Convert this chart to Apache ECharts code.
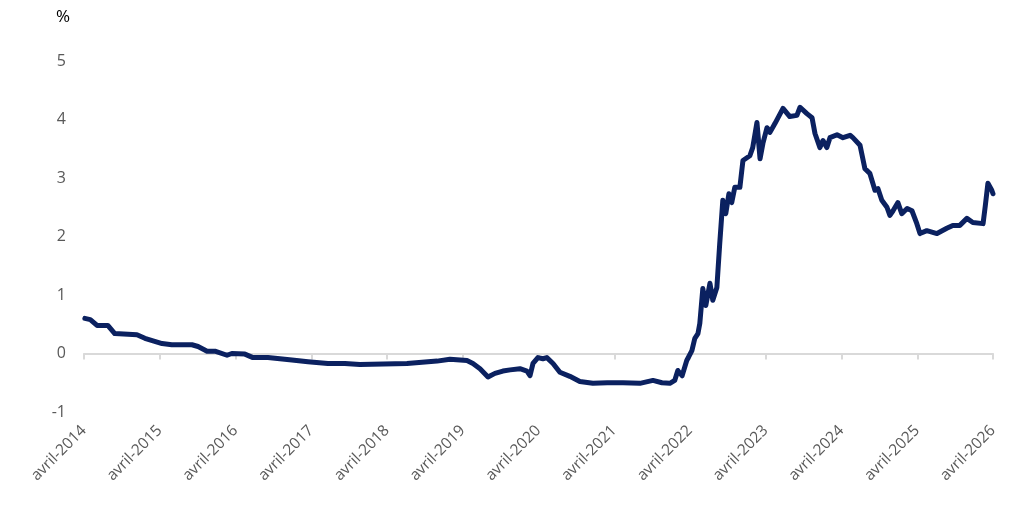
<!DOCTYPE html>
<html>
<head>
<meta charset="utf-8">
<script src="https://cdn.jsdelivr.net/npm/echarts@6/dist/echarts.min.js"></script>
<style>
  html, body { margin: 0; padding: 0; background: #fff; }
  #chart { width: 1024px; height: 517px; }
</style>
</head>
<body>
<div id="chart"></div>
<script>
// dates of the readings
var dates = [
  '2014-04-05', '2014-05-01', '2014-06-03', '2014-07-25', '2014-08-28', '2014-12-13',
  '2015-01-21', '2015-04-12', '2015-05-29', '2015-09-04', '2015-10-03', '2015-11-16',
  '2015-12-24', '2016-02-20', '2016-03-14', '2016-05-16', '2016-06-24', '2016-09-05',
  '2016-12-30', '2017-03-16', '2017-06-20', '2017-09-11', '2017-11-22', '2018-07-06',
  '2018-11-29', '2019-01-31', '2019-04-21', '2019-05-20', '2019-06-23', '2019-08-01',
  '2019-09-04', '2019-10-12', '2019-11-16', '2020-01-03', '2020-02-06', '2020-02-20',
  '2020-03-05', '2020-03-29', '2020-04-22', '2020-05-11', '2020-06-10', '2020-07-13',
  '2020-08-31', '2020-10-18', '2020-12-20', '2021-02-26', '2021-05-13', '2021-08-03',
  '2021-10-05', '2021-11-18', '2021-12-26', '2022-01-19', '2022-02-03', '2022-02-22',
  '2022-03-16', '2022-04-10', '2022-04-24', '2022-05-09', '2022-05-18', '2022-06-02',
  '2022-06-16', '2022-07-06', '2022-07-20', '2022-08-09', '2022-08-23', '2022-09-07',
  '2022-09-21', '2022-10-06', '2022-10-20', '2022-11-04', '2022-11-28', '2022-12-13',
  '2023-01-16', '2023-01-30', '2023-02-18', '2023-03-04', '2023-03-18', '2023-04-07',
  '2023-04-21', '2023-05-15', '2023-06-23', '2023-07-26', '2023-08-30', '2023-09-14',
  '2023-10-17', '2023-11-11', '2023-11-25', '2023-12-19', '2024-01-03', '2024-01-22',
  '2024-02-06', '2024-03-10', '2024-04-08', '2024-05-12', '2024-05-26', '2024-06-29',
  '2024-07-23', '2024-08-16', '2024-09-10', '2024-09-24', '2024-10-13', '2024-11-07',
  '2024-11-21', '2024-12-06', '2024-12-30', '2025-01-18', '2025-02-12', '2025-03-06',
  '2025-03-30', '2025-04-14', '2025-05-17', '2025-07-05', '2025-08-22', '2025-09-20',
  '2025-10-24', '2025-11-27', '2025-12-26', '2026-02-13', '2026-02-23', '2026-03-07',
  '2026-03-26', '2026-04-01'
];
// rate in %
var rates = [
  0.60, 0.58, 0.48, 0.48, 0.34, 0.32,
  0.26, 0.17, 0.15, 0.15, 0.12, 0.04,
  0.04, -0.03, 0.00, -0.01, -0.07, -0.07,
  -0.11, -0.14, -0.17, -0.17, -0.19, -0.17,
  -0.13, -0.10, -0.12, -0.17, -0.26, -0.40,
  -0.34, -0.30, -0.28, -0.26, -0.30, -0.38,
  -0.17, -0.07, -0.09, -0.07, -0.17, -0.32,
  -0.39, -0.48, -0.51, -0.50, -0.50, -0.51,
  -0.46, -0.50, -0.51, -0.46, -0.29, -0.38,
  -0.12, 0.05, 0.26, 0.34, 0.51, 1.11,
  0.82, 1.20, 0.91, 1.13, 1.88, 2.62,
  2.39, 2.73, 2.58, 2.84, 2.84, 3.30,
  3.38, 3.52, 3.95, 3.33, 3.59, 3.86,
  3.78, 3.93, 4.19, 4.05, 4.07, 4.21,
  4.10, 4.03, 3.76, 3.52, 3.64, 3.52,
  3.69, 3.74, 3.69, 3.73, 3.69, 3.56,
  3.16, 3.08, 2.79, 2.82, 2.62, 2.50,
  2.36, 2.44, 2.58, 2.39, 2.48, 2.44,
  2.22, 2.05, 2.10, 2.05, 2.14, 2.19,
  2.19, 2.31, 2.24, 2.22, 2.53, 2.91,
  2.79, 2.73
];
var yTicks = [-1, 0, 1, 2, 3, 4, 5];
var startYear = 2014;   // axis starts in April of this year
var yearCount = 12;

// months elapsed since 1 April of startYear
function monthsFromStart(s) {
  var p = s.split('-').map(Number);
  var dim = new Date(Date.UTC(p[0], p[1], 0)).getUTCDate();
  return (p[0] - startYear) * 12 + (p[1] - 4) + (p[2] - 1) / dim;
}

var points = dates.map(function (d, i) { return [monthsFromStart(d), rates[i]]; });

var myChart = echarts.init(document.getElementById('chart'));
var font = '"Open Sans", "Noto Sans", sans-serif';

var option = {
  animation: false,
  title: {
    text: '%',
    left: 51,
    top: 4,
    textStyle: { fontSize: 17, fontWeight: 500, color: '#000', fontFamily: font }
  },
  grid: { left: 84, right: 31, top: 61, bottom: 105 },
  xAxis: [
    {
      type: 'value',
      min: 0,
      max: yearCount * 12,
      interval: 12,
      axisLine: { show: false, onZero: false },
      axisTick: { show: false },
      splitLine: { show: false },
      axisLabel: {
        rotate: 45,
        margin: 16,
        fontSize: 15.5,
        color: '#595959',
        fontFamily: font,
        formatter: function (v) { return 'avril-' + (startYear + v / 12); }
      }
    },
    {
      type: 'value',
      position: 'bottom',
      min: 0,
      max: yearCount * 12,
      interval: 12,
      axisLine: { show: true, onZero: true, lineStyle: { color: '#d9d9d9', width: 2 } },
      axisTick: { show: true, length: 6, lineStyle: { color: '#d9d9d9', width: 2 } },
      axisLabel: { show: false },
      splitLine: { show: false }
    }
  ],
  yAxis: {
    type: 'value',
    min: yTicks[0],
    max: yTicks[yTicks.length - 1],
    interval: 1,
    axisLine: { show: false },
    axisTick: { show: false },
    splitLine: { show: false },
    axisLabel: { fontSize: 16, color: '#595959', margin: 18, fontFamily: font }
  },
  series: [
    {
      type: 'line',
      xAxisIndex: 0,
      data: points,
      showSymbol: false,
      lineStyle: { color: '#0b2160', width: 5, join: 'round', cap: 'round' }
    }
  ]
};

myChart.setOption(option);
window.addEventListener('resize', function () {
  myChart.resize();
});
</script>
</body>
</html>
